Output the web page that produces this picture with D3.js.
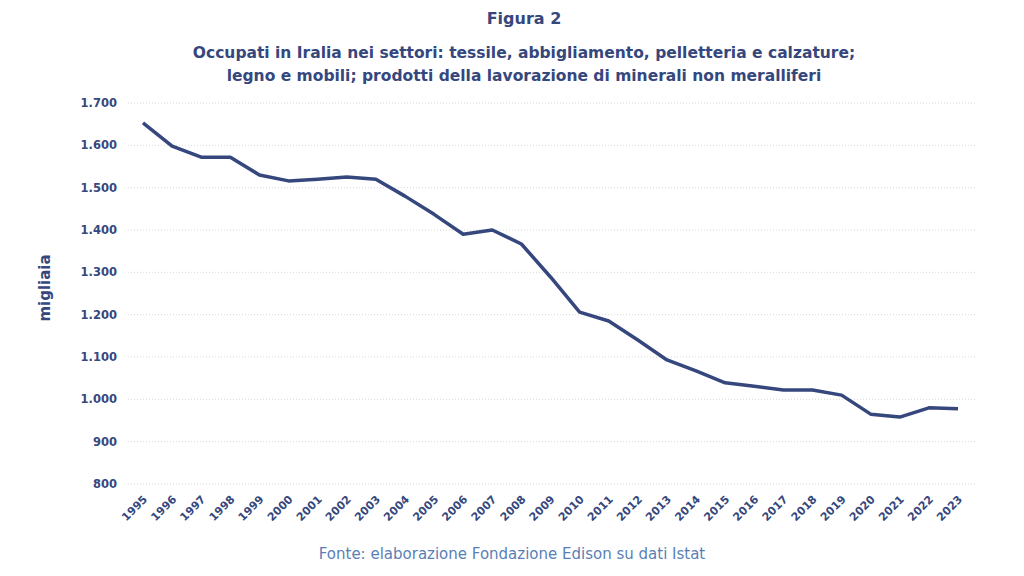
<!DOCTYPE html>
<html><head><meta charset="utf-8">
<script src="https://cdn.jsdelivr.net/npm/d3@7"></script>
<style>body{margin:0;background:#fff}</style>
</head><body>
<svg id="chart"></svg>
<script>
const width = 1024, height = 576;
const color = "#35477d";

// data
const years = d3.range(1995, 2024);
const employed = [1653, 1598, 1572, 1572, 1530, 1516, 1520, 1525, 1520, 1480,
  1437, 1390, 1400, 1367, 1289, 1206, 1185, 1140, 1093, 1067,
  1039, 1031, 1022, 1022, 1010, 965, 958, 980, 978];
const yTicks = [800, 900, 1000, 1100, 1200, 1300, 1400, 1500, 1600, 1700];

const svg = d3.select("#chart").attr("width", width).attr("height", height)
  .style("font-family", "'DejaVu Sans', sans-serif");

const x = d3.scaleLinear().domain([1995, 2023]).range([143, 958]);
const y = d3.scaleLinear().domain([800, 1700]).range([484, 103]);
const fmt = d3.formatLocale({decimal: ",", thousands: ".", grouping: [3], currency: ["", "€"]}).format(",");

// gridlines
svg.append("g").selectAll("line").data(yTicks).join("line")
  .attr("x1", 128).attr("x2", 975)
  .attr("y1", d => y(d)).attr("y2", d => y(d))
  .attr("stroke", "#d8d8d8").attr("stroke-dasharray", "1,2");

// y labels
svg.append("g").selectAll("text").data(yTicks).join("text")
  .attr("x", 117).attr("y", d => y(d) + 4).attr("text-anchor", "end")
  .attr("font-size", 11.5).attr("font-weight", 700).attr("fill", color)
  .text(d => fmt(d));

// x labels
svg.append("g").selectAll("text").data(years).join("text")
  .attr("transform", d => `translate(${x(d) + 5},${500}) rotate(-45)`)
  .attr("text-anchor", "end")
  .attr("font-size", 11).attr("font-weight", 700).attr("fill", color)
  .text(d => d);

// line
svg.append("path")
  .datum(years.map((yr, i) => [yr, employed[i]]))
  .attr("d", d3.line().x(d => x(d[0])).y(d => y(d[1])))
  .attr("fill", "none").attr("stroke", color).attr("stroke-width", 3.5)
  .attr("stroke-linejoin", "round");

// titles
svg.append("text").attr("x", 524).attr("y", 24).attr("text-anchor", "middle")
  .attr("font-size", 16).attr("font-weight", 700).attr("fill", color).text("Figura 2");
svg.append("text").attr("x", 524).attr("y", 58).attr("text-anchor", "middle")
  .attr("font-size", 15.5).attr("font-weight", 700).attr("fill", color)
  .text("Occupati in Iralia nei settori: tessile, abbigliamento, pelletteria e calzature;");
svg.append("text").attr("x", 524).attr("y", 81).attr("text-anchor", "middle")
  .attr("font-size", 15.5).attr("font-weight", 700).attr("fill", color)
  .text("legno e mobili; prodotti della lavorazione di minerali non meralliferi");

svg.append("text").attr("transform", "translate(50,288) rotate(-90)")
  .attr("text-anchor", "middle").attr("font-size", 15).attr("font-weight", 700)
  .attr("fill", color).text("migliaia");

svg.append("text").attr("x", 512).attr("y", 559).attr("text-anchor", "middle")
  .attr("font-size", 15).attr("fill", "#5a7fb5")
  .text("Fonte: elaborazione Fondazione Edison su dati Istat");
</script>
</body></html>
